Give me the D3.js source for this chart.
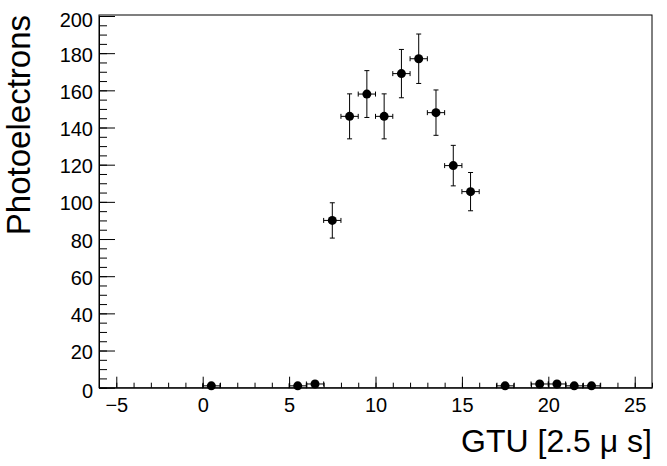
<!DOCTYPE html>
<html>
<head>
<meta charset="utf-8">
<script src="https://cdn.jsdelivr.net/npm/d3@7"></script>
<style>
  body { margin: 0; background: #fff; }
  text { font-family: "Liberation Sans", Arial, Helvetica, sans-serif; fill: #000; }
</style>
</head>
<body>
<svg id="chart" width="667" height="466"></svg>
<script>
// bin centres (GTU) and measured photoelectrons with their errors
const gtu = [0.5, 5.5, 6.5, 7.5, 8.5, 9.5, 10.5, 11.5, 12.5, 13.5, 14.5, 15.5, 17.5, 19.5, 20.5, 21.5, 22.5];
const photoelectrons = [1, 1, 2, 90, 146, 158, 146, 169, 177, 148, 119.5, 105.5, 1, 2, 2, 1, 1];
const peError = [1, 1, 1.4, 9.5, 12.1, 12.6, 12.1, 13, 13.3, 12.2, 10.9, 10.3, 1, 1.4, 1.4, 1, 1];
const binHalfWidth = [0.5, 0.5, 0.5, 0.5, 0.5, 0.5, 0.5, 0.5, 0.5, 0.5, 0.5, 0.5, 0.5, 0.5, 0.5, 0.5, 0.5];

const xTicks = [-5, 0, 5, 10, 15, 20, 25];
const yTicks = [0, 20, 40, 60, 80, 100, 120, 140, 160, 180, 200];

const plotL = 99, plotR = 652, plotT = 15, plotB = 387.7;

const svg = d3.select("#chart");

const x = d3.scaleLinear().domain([-6, 26]).range([plotL, plotR]);
const y = d3.scaleLinear().domain([0, 200]).range([plotB, 16]);

// frame
svg.append("rect")
  .attr("x", plotL).attr("y", plotT)
  .attr("width", plotR - plotL).attr("height", plotB - plotT)
  .attr("fill", "none").attr("stroke", "#000").attr("stroke-width", 1);

// x axis: minor every 1, major every 5, ticks pointing inward
svg.append("g")
  .attr("transform", `translate(0,${plotB})`)
  .call(d3.axisBottom(x).tickValues(d3.range(-6, 27, 1)).tickSize(-5).tickSizeOuter(0).tickFormat(""))
  .call(g => g.select(".domain").remove());

svg.append("g")
  .attr("transform", `translate(0,${plotB})`)
  .call(d3.axisBottom(x).tickValues(xTicks).tickSize(-11).tickSizeOuter(0).tickPadding(10)
    .tickFormat(d => d < 0 ? "\u2212" + Math.abs(d) : d))
  .call(g => g.select(".domain").attr("stroke", "#000"))
  .call(g => g.selectAll("text").attr("font-size", 20).attr("font-family", null));

// y axis: minor every 5, major every 20
svg.append("g")
  .attr("transform", `translate(${plotL},0)`)
  .call(d3.axisLeft(y).tickValues(d3.range(0, 201, 5)).tickSize(-8).tickSizeOuter(0).tickFormat(""))
  .call(g => g.select(".domain").remove());

svg.append("g")
  .attr("transform", `translate(${plotL},0)`)
  .call(d3.axisLeft(y).tickValues(yTicks).tickSize(-16).tickSizeOuter(0).tickPadding(6))
  .call(g => g.select(".domain").attr("stroke", "#000"))
  .call(g => g.selectAll("text").attr("font-size", 20).attr("font-family", null)
    .attr("dy", d => (d === 0 || d === 200) ? "0.5em" : "0.4em"));

// data points with error bars
const pts = gtu.map((g, i) => ({ x: g, y: photoelectrons[i], ey: peError[i], ex: binHalfWidth[i] }));

const pt = svg.append("g").selectAll("g").data(pts).enter().append("g");

pt.append("line")
  .attr("x1", d => x(d.x - d.ex)).attr("x2", d => x(d.x + d.ex))
  .attr("y1", d => y(d.y)).attr("y2", d => y(d.y))
  .attr("stroke", "#000");
pt.append("line")
  .attr("x1", d => x(d.x - d.ex)).attr("x2", d => x(d.x - d.ex))
  .attr("y1", d => y(d.y) - 2.5).attr("y2", d => y(d.y) + 2.5)
  .attr("stroke", "#000");
pt.append("line")
  .attr("x1", d => x(d.x + d.ex)).attr("x2", d => x(d.x + d.ex))
  .attr("y1", d => y(d.y) - 2.5).attr("y2", d => y(d.y) + 2.5)
  .attr("stroke", "#000");

pt.append("line")
  .attr("x1", d => x(d.x)).attr("x2", d => x(d.x))
  .attr("y1", d => y(d.y - d.ey)).attr("y2", d => y(d.y + d.ey))
  .attr("stroke", "#000");
pt.append("line")
  .attr("x1", d => x(d.x) - 2.5).attr("x2", d => x(d.x) + 2.5)
  .attr("y1", d => y(d.y + d.ey)).attr("y2", d => y(d.y + d.ey))
  .attr("stroke", "#000");
pt.append("line")
  .attr("x1", d => x(d.x) - 2.5).attr("x2", d => x(d.x) + 2.5)
  .attr("y1", d => y(d.y - d.ey)).attr("y2", d => y(d.y - d.ey))
  .attr("stroke", "#000");

pt.append("circle")
  .attr("cx", d => x(d.x)).attr("cy", d => y(d.y))
  .attr("r", 4.5)
  .attr("fill", "#000");

// axis titles
svg.append("text")
  .attr("x", plotR).attr("y", 452)
  .attr("text-anchor", "end")
  .attr("font-size", 32)
  .text("GTU [2.5 \u03bc s]");

svg.append("text")
  .attr("transform", `translate(30,${plotT}) rotate(-90)`)
  .attr("text-anchor", "end")
  .attr("font-size", 33)
  .text("Photoelectrons");
</script>
</body>
</html>
